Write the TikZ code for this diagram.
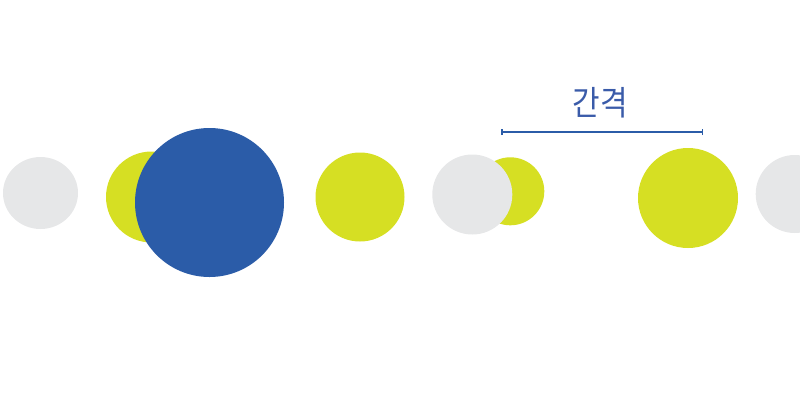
\documentclass[tikz,border=0pt]{standalone}
\usepackage{fontspec}
\newfontfamily\krfont{Noto Sans CJK KR}
\definecolor{cgray}{HTML}{E6E7E8}
\definecolor{cyel}{HTML}{D6DF23}
\definecolor{cblue}{HTML}{2B5CA8}
\definecolor{ctext}{HTML}{3A5BA9}
\begin{document}
\begin{tikzpicture}[x=1pt,y=-1pt,
  dot/.style={circle,inner sep=0pt,outer sep=0pt},
  graydot/.style={dot,fill=cgray},
  yeldot/.style={dot,fill=cyel},
  bluedot/.style={dot,fill=cblue},
  gap/.style={draw=cblue,line width=1.3pt}]
\useasboundingbox (0,0) rectangle (800,400);
\fill[cgray] (40.5,193) ellipse [x radius=37.5, y radius=36];
\node[yeldot,minimum size=91pt] (y1) at (151.5,197) {};
\node[bluedot,minimum size=149pt] (b1) at (209.5,202.5) {};
\node[yeldot,minimum size=89pt] (y2) at (360,197) {};
\node[yeldot,minimum size=68pt] (y3) at (510.3,191.3) {};
\node[graydot,minimum size=80pt] (g2) at (472.3,194.5) {};
\node[yeldot,minimum size=100pt] (y4) at (688,198) {};
\node[graydot,minimum size=78pt] (g3) at (794.7,194) {};
\coordinate (la) at (502,132);
\coordinate (lb) at (702.5,132);
\draw[gap] (la) -- (lb);
\draw[gap] ([yshift=-3pt]la) -- ([yshift=3pt]la);
\draw[gap] ([yshift=-3pt]lb) -- ([yshift=3pt]lb);
\node[text=ctext,font=\krfont\fontsize{34}{40}\selectfont,inner sep=0pt,xscale=0.88] (lbl) at (600.5,103) {간격};
\end{tikzpicture}
\end{document}
